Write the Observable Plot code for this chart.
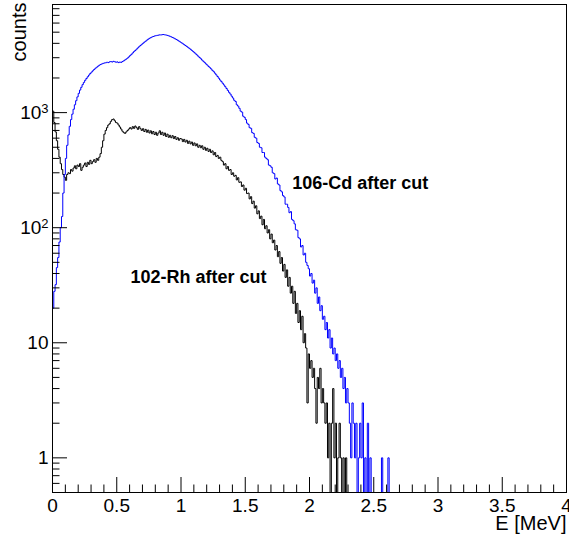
<!DOCTYPE html>
<html><head><meta charset="utf-8">
<script src="https://cdn.jsdelivr.net/npm/d3@7"></script>
<script src="https://cdn.jsdelivr.net/npm/@observablehq/plot@0.6"></script>
<style>html,body{margin:0;padding:0;background:#fff;overflow:hidden}</style>
</head><body><div id="chart"></div>
<script>
// Histogram bin width (MeV); bins start at 0
const binWidth = 0.01;

// 102-Rh after cut (black), counts per 0.01 MeV bin
const rhCounts = [
  1030, 820, 680, 570, 480, 410, 360, 320, 290, 275,
  258, 290, 300, 295, 320, 310, 330, 345, 325, 350,
  340, 360, 315, 335, 350, 365, 340, 370, 355, 385,
  360, 375, 390, 370, 400, 385, 410, 440, 500, 570,
  650, 700, 740, 780, 800, 840, 870, 880, 850, 820,
  810, 780, 750, 720, 690, 670, 660, 680, 700, 720,
  740, 720, 755, 730, 765, 740, 715, 755, 725, 700,
  725, 685, 715, 675, 705, 665, 695, 655, 685, 645,
  675, 635, 665, 695, 645, 675, 635, 665, 620, 650,
  610, 635, 605, 630, 595, 620, 585, 605, 575, 595,
  590, 560, 585, 555, 575, 540, 565, 535, 555, 520,
  545, 515, 535, 500, 520, 495, 515, 480, 500, 470,
  490, 460, 480, 450, 465, 430, 450, 415, 425, 400,
  410, 385, 375, 350, 360, 325, 340, 315, 320, 290,
  300, 280, 285, 260, 272, 248, 250, 228, 235, 212,
  220, 198, 200, 178, 186, 162, 170, 148, 155, 132,
  140, 120, 126, 106, 118, 98, 104, 90, 96, 80,
  88, 74, 78, 64, 70, 56, 62, 49, 55, 42,
  48, 37, 43, 31, 37, 27, 31, 22, 28, 18,
  22, 15, 19, 13, 17, 10, 12, 9, 3, 8,
  6, 7, 5, 6, 4, 2, 5, 4, 6, 3,
  4, 3, 2, 3, 1, 2, 0, 2, 4, 1,
  2, 0, 1, 2, 1, 0, 1, 0, 1, 0
];

// 106-Cd after cut (blue), counts per 0.01 MeV bin
const cdCounts = [
  20, 28, 32, 45, 55, 75, 100, 125, 200, 290,
  400, 520, 640, 760, 870, 970, 1070, 1170, 1270, 1370,
  1470, 1570, 1660, 1750, 1830, 1910, 1980, 2050, 2120, 2190,
  2250, 2310, 2370, 2430, 2480, 2530, 2580, 2620, 2650, 2680,
  2700, 2710, 2740, 2720, 2760, 2780, 2750, 2790, 2770, 2740,
  2760, 2720, 2750, 2730, 2780, 2820, 2870, 2920, 2980, 3050,
  3130, 3210, 3300, 3390, 3470, 3560, 3650, 3740, 3830, 3920,
  4000, 4090, 4170, 4260, 4340, 4420, 4480, 4540, 4590, 4630,
  4660, 4690, 4710, 4740, 4730, 4760, 4770, 4740, 4720, 4690,
  4650, 4600, 4550, 4500, 4440, 4380, 4320, 4250, 4180, 4110,
  4040, 3970, 3900, 3830, 3760, 3690, 3620, 3550, 3470, 3400,
  3320, 3240, 3170, 3090, 3010, 2940, 2860, 2790, 2720, 2650,
  2590, 2520, 2460, 2400, 2330, 2270, 2200, 2130, 2060, 1990,
  1920, 1860, 1800, 1740, 1680, 1620, 1560, 1500, 1450, 1390,
  1340, 1280, 1250, 1170, 1140, 1090, 1030, 1010, 930, 910,
  870, 810, 790, 740, 730, 670, 660, 610, 600, 550,
  540, 500, 495, 450, 450, 410, 400, 390, 350, 345,
  335, 300, 295, 265, 270, 240, 235, 210, 205, 190,
  185, 160, 160, 150, 135, 138, 118, 115, 108, 96,
  95, 82, 80, 68, 70, 58, 60, 50, 47, 44,
  38, 40, 33, 35, 27, 30, 22, 25, 19, 21,
  16, 17, 13, 15, 11, 13, 9, 11, 8, 9,
  7, 8, 6, 7, 5, 6, 4, 5, 3, 4,
  3, 2, 1, 3, 2, 1, 2, 0, 1, 2,
  1, 3, 0, 1, 0, 2, 0, 1, 0, 0,
  0, 0, 0, 0, 0, 0, 1, 0, 0, 0,
  0, 1, 0
];

const xMajorTicks = [0, 0.5, 1, 1.5, 2, 2.5, 3, 3.5, 4];
const xMinorTicks = [0.1, 0.2, 0.3, 0.4, 0.6, 0.7, 0.8, 0.9, 1.1, 1.2, 1.3, 1.4, 1.6, 1.7, 1.8, 1.9,
  2.1, 2.2, 2.3, 2.4, 2.6, 2.7, 2.8, 2.9, 3.1, 3.2, 3.3, 3.4, 3.6, 3.7, 3.8, 3.9];
const yMajorTicks = [1, 10, 100, 1000];
const yTickLabels = ["1", "10", "10²", "10³"];
const yMinorTicks = [0.6, 0.7, 0.8, 0.9, 2, 3, 4, 5, 6, 7, 8, 9, 20, 30, 40, 50, 60, 70, 80, 90,
  200, 300, 400, 500, 600, 700, 800, 900, 2000, 3000, 4000, 5000, 6000, 7000, 8000];

const seriesNames = ["102-Rh after cut", "106-Cd after cut"];
const seriesColors = ["#000000", "#0000ff"];
const annotationText = ["106-Cd after cut", "102-Rh after cut"];
const annotationX = [1.865, 0.607];   // MeV
const annotationY = [215, 33.2];      // counts

// Build step-histogram tables (empty bins drop below the axis and are clipped)
function histRows(counts) {
  const rows = counts.map((c, i) => ({x: i * binWidth, y: c > 0 ? c : 0.3}));
  rows.push({x: counts.length * binWidth, y: 0.3});
  return rows;
}
const rhRows = histRows(rhCounts);
const cdRows = histRows(cdCounts);
const annotations = annotationText.map((t, i) => ({text: t, x: annotationX[i], y: annotationY[i]}));

const W = 569, H = 537, mL = 52, mR = 3, mT = 4, mB = 45;
const frameW = W - mL - mR, frameH = H - mT - mB;
const font = "'Liberation Sans', Arial, Helvetica, sans-serif";

const chart = Plot.plot({
  width: W, height: H,
  marginLeft: mL, marginRight: mR, marginTop: mT, marginBottom: mB,
  style: {fontFamily: font, background: "#fff", color: "#000"},
  x: {domain: [0, 4]},
  y: {type: "log", domain: [0.5, 8700]},
  marks: [
    Plot.line(rhRows, {x: "x", y: "y", curve: "step-after", stroke: seriesColors[0], strokeWidth: 1, clip: true}),
    Plot.line(cdRows, {x: "x", y: "y", curve: "step-after", stroke: seriesColors[1], strokeWidth: 1, clip: true}),
    Plot.tickX(xMajorTicks, {x: d => d, insetTop: frameH - 15, stroke: "#000"}),
    Plot.tickX(xMinorTicks, {x: d => d, insetTop: frameH - 7.5, stroke: "#000"}),
    Plot.tickY(yMajorTicks, {y: d => d, insetRight: frameW - 15, stroke: "#000"}),
    Plot.tickY(yMinorTicks, {y: d => d, insetRight: frameW - 7.5, stroke: "#000"}),
    Plot.frame({stroke: "#000"}),
    Plot.axisX({ticks: xMajorTicks, tickSize: 0, tickPadding: 6, tickFormat: d => String(d), fontSize: 19, label: null}),
    Plot.axisY({ticks: yMajorTicks, tickSize: 0, tickPadding: 4, tickFormat: d => yTickLabels[yMajorTicks.indexOf(d)], fontSize: 19, label: null}),
    Plot.text(["E [MeV]"], {text: d => d, frameAnchor: "bottom-right", textAnchor: "end", lineAnchor: "bottom", dy: 37, fontSize: 20}),
    Plot.text(["counts"], {text: d => d, frameAnchor: "top-left", rotate: -90, textAnchor: "end", lineAnchor: "bottom", dx: -26.5, dy: -2, fontSize: 20}),
    Plot.text(annotations, {x: "x", y: "y", text: "text", textAnchor: "start", lineAnchor: "bottom", fontWeight: "bold", fontSize: 18})
  ]
});

// Superscript exponents on the y tick labels
d3.select(chart).selectAll("text").each(function() {
  const t = d3.select(this);
  const s = t.text();
  const m = /^10([²³])$/.exec(s);
  if (m) {
    const exp = m[1] === "²" ? "2" : "3";
    t.text("10");
    t.append("tspan").attr("dy", "-6").attr("font-size", "13").text(exp);
  }
});

document.getElementById("chart").appendChild(chart);
</script>
</body></html>
